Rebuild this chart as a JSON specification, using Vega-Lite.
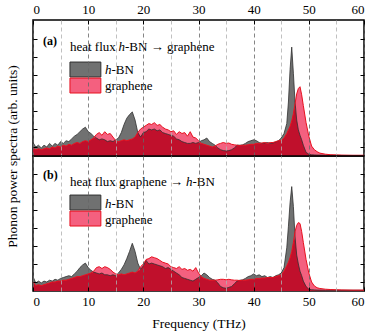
{
"$schema": "https://vega.github.io/schema/vega-lite/v6.json",
"padding": {"left": 4, "top": 2, "right": 2, "bottom": 2},
"spacing": 0,
"bounds": "flush",
"config": {
  "font": "'Liberation Serif', 'DejaVu Serif', serif",
  "view": {"stroke": "#000", "strokeWidth": 1.5},
  "text": {"font": "'Liberation Serif', 'DejaVu Serif', serif"},
  "axis": {"labelFont": "'Liberation Serif', 'DejaVu Serif', serif", "titleFont": "'Liberation Serif', 'DejaVu Serif', serif", "labelColor": "#000", "titleColor": "#000", "labelFontSize": 13, "titleFontSize": 13.5, "titleFontWeight": "normal", "tickColor": "#000"}
},
"data": {"values": [
{"panel":"a","f":0,"hbn":0.75,"gr":0.45},{"panel":"a","f":0.5,"hbn":0.5,"gr":0.35},{"panel":"a","f":1,"hbn":0.6,"gr":0.4},{"panel":"a","f":1.5,"hbn":0.45,"gr":0.35},{"panel":"a","f":2,"hbn":0.6,"gr":0.4},{"panel":"a","f":2.5,"hbn":0.5,"gr":0.45},{"panel":"a","f":3,"hbn":0.7,"gr":0.4},{"panel":"a","f":3.5,"hbn":0.55,"gr":0.5},{"panel":"a","f":4,"hbn":0.7,"gr":0.45},{"panel":"a","f":4.5,"hbn":0.6,"gr":0.55},{"panel":"a","f":5,"hbn":0.8,"gr":0.5},{"panel":"a","f":5.5,"hbn":0.7,"gr":0.6},{"panel":"a","f":6,"hbn":0.85,"gr":0.55},{"panel":"a","f":6.5,"hbn":0.8,"gr":0.65},{"panel":"a","f":7,"hbn":0.95,"gr":0.6},{"panel":"a","f":7.5,"hbn":1.1,"gr":0.7},{"panel":"a","f":8,"hbn":1.2,"gr":0.75},{"panel":"a","f":8.5,"hbn":1.35,"gr":0.7},{"panel":"a","f":9,"hbn":1.5,"gr":0.8},{"panel":"a","f":9.5,"hbn":1.6,"gr":0.85},{"panel":"a","f":10,"hbn":1.35,"gr":0.8},{"panel":"a","f":10.5,"hbn":1.25,"gr":0.9},{"panel":"a","f":11,"hbn":1.1,"gr":1.0},{"panel":"a","f":11.5,"hbn":1.0,"gr":1.2},{"panel":"a","f":12,"hbn":0.9,"gr":1.3},{"panel":"a","f":12.5,"hbn":0.95,"gr":1.15},{"panel":"a","f":13,"hbn":0.9,"gr":1.35},{"panel":"a","f":13.5,"hbn":0.8,"gr":1.2},{"panel":"a","f":14,"hbn":0.85,"gr":1.25},{"panel":"a","f":14.5,"hbn":0.8,"gr":1.05},{"panel":"a","f":15,"hbn":0.9,"gr":0.85},{"panel":"a","f":15.5,"hbn":1.0,"gr":0.8},{"panel":"a","f":16,"hbn":1.3,"gr":0.85},{"panel":"a","f":16.5,"hbn":1.75,"gr":0.9},{"panel":"a","f":17,"hbn":2.1,"gr":0.85},{"panel":"a","f":17.5,"hbn":2.3,"gr":0.9},{"panel":"a","f":18,"hbn":2.45,"gr":0.95},{"panel":"a","f":18.5,"hbn":2.0,"gr":1.05},{"panel":"a","f":19,"hbn":1.3,"gr":1.3},{"panel":"a","f":19.5,"hbn":1.05,"gr":1.5},{"panel":"a","f":20,"hbn":1.3,"gr":1.6},{"panel":"a","f":20.5,"hbn":1.35,"gr":1.7},{"panel":"a","f":21,"hbn":1.5,"gr":1.8},{"panel":"a","f":21.5,"hbn":1.45,"gr":1.75},{"panel":"a","f":22,"hbn":1.5,"gr":1.85},{"panel":"a","f":22.5,"hbn":1.4,"gr":1.7},{"panel":"a","f":23,"hbn":1.45,"gr":1.75},{"panel":"a","f":23.5,"hbn":1.3,"gr":1.6},{"panel":"a","f":24,"hbn":1.25,"gr":1.5},{"panel":"a","f":24.5,"hbn":1.2,"gr":1.45},{"panel":"a","f":25,"hbn":1.15,"gr":1.35},{"panel":"a","f":25.5,"hbn":1.1,"gr":1.4},{"panel":"a","f":26,"hbn":0.95,"gr":1.2},{"panel":"a","f":26.5,"hbn":0.9,"gr":1.35},{"panel":"a","f":27,"hbn":0.8,"gr":1.25},{"panel":"a","f":27.5,"hbn":0.75,"gr":1.3},{"panel":"a","f":28,"hbn":0.7,"gr":1.1},{"panel":"a","f":28.5,"hbn":0.7,"gr":1.35},{"panel":"a","f":29,"hbn":0.75,"gr":1.05},{"panel":"a","f":29.5,"hbn":0.7,"gr":1.0},{"panel":"a","f":30,"hbn":0.75,"gr":0.85},{"panel":"a","f":30.5,"hbn":0.85,"gr":0.7},{"panel":"a","f":31,"hbn":0.9,"gr":0.65},{"panel":"a","f":31.5,"hbn":1.0,"gr":0.6},{"panel":"a","f":32,"hbn":0.8,"gr":0.55},{"panel":"a","f":32.5,"hbn":0.7,"gr":0.5},{"panel":"a","f":33,"hbn":0.6,"gr":0.55},{"panel":"a","f":33.5,"hbn":0.45,"gr":0.65},{"panel":"a","f":34,"hbn":0.35,"gr":0.7},{"panel":"a","f":34.5,"hbn":0.3,"gr":0.75},{"panel":"a","f":35,"hbn":0.28,"gr":0.7},{"panel":"a","f":35.5,"hbn":0.3,"gr":0.72},{"panel":"a","f":36,"hbn":0.35,"gr":0.65},{"panel":"a","f":36.5,"hbn":0.45,"gr":0.62},{"panel":"a","f":37,"hbn":0.6,"gr":0.6},{"panel":"a","f":37.5,"hbn":0.6,"gr":0.58},{"panel":"a","f":38,"hbn":0.62,"gr":0.6},{"panel":"a","f":38.5,"hbn":0.7,"gr":0.6},{"panel":"a","f":39,"hbn":0.8,"gr":0.62},{"panel":"a","f":39.5,"hbn":0.85,"gr":0.65},{"panel":"a","f":40,"hbn":0.9,"gr":0.65},{"panel":"a","f":40.5,"hbn":0.85,"gr":0.7},{"panel":"a","f":41,"hbn":0.75,"gr":0.7},{"panel":"a","f":41.5,"hbn":0.7,"gr":0.72},{"panel":"a","f":42,"hbn":0.72,"gr":0.75},{"panel":"a","f":42.5,"hbn":0.75,"gr":0.7},{"panel":"a","f":43,"hbn":0.7,"gr":0.75},{"panel":"a","f":43.5,"hbn":0.72,"gr":0.75},{"panel":"a","f":44,"hbn":0.78,"gr":0.8},{"panel":"a","f":44.5,"hbn":0.85,"gr":0.85},{"panel":"a","f":45,"hbn":1.0,"gr":0.85},{"panel":"a","f":45.5,"hbn":1.25,"gr":1.0},{"panel":"a","f":46,"hbn":1.8,"gr":1.25},{"panel":"a","f":46.3,"hbn":3.0,"gr":1.45},{"panel":"a","f":46.6,"hbn":4.8,"gr":1.65},{"panel":"a","f":46.9,"hbn":6.05,"gr":1.95},{"panel":"a","f":47.2,"hbn":4.6,"gr":2.35},{"panel":"a","f":47.5,"hbn":3.0,"gr":2.9},{"panel":"a","f":47.8,"hbn":2.0,"gr":3.45},{"panel":"a","f":48.1,"hbn":1.45,"gr":3.75},{"panel":"a","f":48.4,"hbn":1.15,"gr":3.85},{"panel":"a","f":48.7,"hbn":0.9,"gr":3.4},{"panel":"a","f":49,"hbn":0.6,"gr":2.8},{"panel":"a","f":49.5,"hbn":0.2,"gr":1.85},{"panel":"a","f":50,"hbn":0.1,"gr":1.1},{"panel":"a","f":50.5,"hbn":0.07,"gr":0.55},{"panel":"a","f":51,"hbn":0.06,"gr":0.35},{"panel":"a","f":51.5,"hbn":0.05,"gr":0.24},{"panel":"a","f":52,"hbn":0.05,"gr":0.16},{"panel":"a","f":53,"hbn":0.04,"gr":0.1},{"panel":"a","f":54,"hbn":0.04,"gr":0.07},{"panel":"a","f":55,"hbn":0.04,"gr":0.06},{"panel":"a","f":56,"hbn":0.03,"gr":0.05},{"panel":"a","f":58,"hbn":0.03,"gr":0.04},{"panel":"a","f":60,"hbn":0.03,"gr":0.04},
{"panel":"b","f":0,"hbn":0.8,"gr":0.5},{"panel":"b","f":0.5,"hbn":0.45,"gr":0.3},{"panel":"b","f":1,"hbn":0.55,"gr":0.35},{"panel":"b","f":1.5,"hbn":0.45,"gr":0.3},{"panel":"b","f":2,"hbn":0.55,"gr":0.35},{"panel":"b","f":2.5,"hbn":0.5,"gr":0.4},{"panel":"b","f":3,"hbn":0.6,"gr":0.45},{"panel":"b","f":3.5,"hbn":0.55,"gr":0.5},{"panel":"b","f":4,"hbn":0.65,"gr":0.5},{"panel":"b","f":4.5,"hbn":0.6,"gr":0.55},{"panel":"b","f":5,"hbn":0.7,"gr":0.55},{"panel":"b","f":5.5,"hbn":0.75,"gr":0.6},{"panel":"b","f":6,"hbn":0.8,"gr":0.6},{"panel":"b","f":6.5,"hbn":0.85,"gr":0.65},{"panel":"b","f":7,"hbn":0.8,"gr":0.7},{"panel":"b","f":7.5,"hbn":0.95,"gr":0.75},{"panel":"b","f":8,"hbn":1.1,"gr":0.8},{"panel":"b","f":8.5,"hbn":1.3,"gr":0.8},{"panel":"b","f":9,"hbn":1.45,"gr":0.85},{"panel":"b","f":9.5,"hbn":1.55,"gr":0.9},{"panel":"b","f":10,"hbn":1.3,"gr":0.95},{"panel":"b","f":10.5,"hbn":1.15,"gr":1.0},{"panel":"b","f":11,"hbn":1.05,"gr":1.1},{"panel":"b","f":11.5,"hbn":1.0,"gr":1.3},{"panel":"b","f":12,"hbn":0.95,"gr":1.35},{"panel":"b","f":12.5,"hbn":1.0,"gr":1.25},{"panel":"b","f":13,"hbn":0.9,"gr":1.35},{"panel":"b","f":13.5,"hbn":0.9,"gr":1.3},{"panel":"b","f":14,"hbn":0.85,"gr":1.2},{"panel":"b","f":14.5,"hbn":0.9,"gr":1.05},{"panel":"b","f":15,"hbn":0.85,"gr":0.95},{"panel":"b","f":15.5,"hbn":1.0,"gr":0.9},{"panel":"b","f":16,"hbn":1.2,"gr":0.95},{"panel":"b","f":16.5,"hbn":1.45,"gr":0.9},{"panel":"b","f":17,"hbn":1.8,"gr":0.95},{"panel":"b","f":17.5,"hbn":2.2,"gr":1.0},{"panel":"b","f":18,"hbn":2.65,"gr":1.05},{"panel":"b","f":18.5,"hbn":2.2,"gr":1.0},{"panel":"b","f":19,"hbn":1.55,"gr":1.1},{"panel":"b","f":19.5,"hbn":1.2,"gr":1.35},{"panel":"b","f":20,"hbn":1.4,"gr":1.5},{"panel":"b","f":20.5,"hbn":1.7,"gr":1.75},{"panel":"b","f":21,"hbn":1.5,"gr":1.8},{"panel":"b","f":21.5,"hbn":1.55,"gr":1.9},{"panel":"b","f":22,"hbn":1.5,"gr":1.85},{"panel":"b","f":22.5,"hbn":1.45,"gr":1.8},{"panel":"b","f":23,"hbn":1.4,"gr":1.7},{"panel":"b","f":23.5,"hbn":1.35,"gr":1.6},{"panel":"b","f":24,"hbn":1.25,"gr":1.55},{"panel":"b","f":24.5,"hbn":1.3,"gr":1.5},{"panel":"b","f":25,"hbn":1.2,"gr":1.35},{"panel":"b","f":25.5,"hbn":1.1,"gr":1.3},{"panel":"b","f":26,"hbn":1.0,"gr":1.25},{"panel":"b","f":26.5,"hbn":0.9,"gr":1.35},{"panel":"b","f":27,"hbn":0.75,"gr":1.2},{"panel":"b","f":27.5,"hbn":0.7,"gr":1.25},{"panel":"b","f":28,"hbn":0.65,"gr":1.15},{"panel":"b","f":28.5,"hbn":0.6,"gr":1.2},{"panel":"b","f":29,"hbn":0.55,"gr":1.1},{"panel":"b","f":29.5,"hbn":0.65,"gr":1.3},{"panel":"b","f":30,"hbn":0.75,"gr":1.0},{"panel":"b","f":30.5,"hbn":0.85,"gr":0.8},{"panel":"b","f":31,"hbn":1.0,"gr":0.7},{"panel":"b","f":31.5,"hbn":0.9,"gr":0.65},{"panel":"b","f":32,"hbn":0.75,"gr":0.6},{"panel":"b","f":32.5,"hbn":0.65,"gr":0.6},{"panel":"b","f":33,"hbn":0.6,"gr":0.6},{"panel":"b","f":33.5,"hbn":0.45,"gr":0.62},{"panel":"b","f":34,"hbn":0.25,"gr":0.65},{"panel":"b","f":34.5,"hbn":0.18,"gr":0.65},{"panel":"b","f":35,"hbn":0.15,"gr":0.62},{"panel":"b","f":35.5,"hbn":0.2,"gr":0.65},{"panel":"b","f":36,"hbn":0.25,"gr":0.62},{"panel":"b","f":36.5,"hbn":0.4,"gr":0.6},{"panel":"b","f":37,"hbn":0.55,"gr":0.6},{"panel":"b","f":37.5,"hbn":0.6,"gr":0.58},{"panel":"b","f":38,"hbn":0.62,"gr":0.6},{"panel":"b","f":38.5,"hbn":0.7,"gr":0.6},{"panel":"b","f":39,"hbn":0.8,"gr":0.62},{"panel":"b","f":39.5,"hbn":0.85,"gr":0.65},{"panel":"b","f":40,"hbn":0.95,"gr":0.65},{"panel":"b","f":40.5,"hbn":0.85,"gr":0.7},{"panel":"b","f":41,"hbn":0.9,"gr":0.7},{"panel":"b","f":41.5,"hbn":0.8,"gr":0.72},{"panel":"b","f":42,"hbn":0.85,"gr":0.72},{"panel":"b","f":42.5,"hbn":0.75,"gr":0.75},{"panel":"b","f":43,"hbn":0.8,"gr":0.75},{"panel":"b","f":43.5,"hbn":0.75,"gr":0.75},{"panel":"b","f":44,"hbn":0.85,"gr":0.8},{"panel":"b","f":44.5,"hbn":0.9,"gr":0.85},{"panel":"b","f":45,"hbn":1.0,"gr":0.9},{"panel":"b","f":45.5,"hbn":1.3,"gr":1.1},{"panel":"b","f":46,"hbn":2.4,"gr":1.4},{"panel":"b","f":46.3,"hbn":3.6,"gr":1.6},{"panel":"b","f":46.6,"hbn":4.9,"gr":1.85},{"panel":"b","f":46.9,"hbn":5.8,"gr":2.2},{"panel":"b","f":47.2,"hbn":4.7,"gr":2.7},{"panel":"b","f":47.5,"hbn":3.0,"gr":3.3},{"panel":"b","f":47.8,"hbn":2.0,"gr":3.65},{"panel":"b","f":48.1,"hbn":1.5,"gr":3.8},{"panel":"b","f":48.4,"hbn":1.1,"gr":3.75},{"panel":"b","f":48.7,"hbn":0.85,"gr":3.3},{"panel":"b","f":49,"hbn":0.55,"gr":2.7},{"panel":"b","f":49.5,"hbn":0.25,"gr":1.75},{"panel":"b","f":50,"hbn":0.1,"gr":1.0},{"panel":"b","f":50.5,"hbn":0.07,"gr":0.5},{"panel":"b","f":51,"hbn":0.06,"gr":0.28},{"panel":"b","f":51.5,"hbn":0.05,"gr":0.18},{"panel":"b","f":52,"hbn":0.05,"gr":0.14},{"panel":"b","f":53,"hbn":0.04,"gr":0.1},{"panel":"b","f":54,"hbn":0.04,"gr":0.08},{"panel":"b","f":55,"hbn":0.04,"gr":0.07},{"panel":"b","f":56,"hbn":0.04,"gr":0.06},{"panel":"b","f":58,"hbn":0.04,"gr":0.05},{"panel":"b","f":60,"hbn":0.04,"gr":0.05}
]},
"vconcat": [
{
  "width": 331, "height": 136,
  "transform": [{"filter": "datum.panel == 'a'"}],
  "resolve": {"axis": {"x": "independent", "y": "independent"}},
  "layer": [
    {"mark": {"type": "area", "color": "#707171"},
     "encoding": {
       "x": {"field": "f", "type": "quantitative", "scale": {"domain": [0, 60], "nice": false},
             "axis": {"orient": "top", "values": [0,10,20,30,40,50,60], "grid": true, "gridColor": "#666", "gridDash": [4,3], "gridWidth": 0.8, "ticks": true, "tickSize": -4, "labelPadding": 8, "domain": false, "title": null, "zindex": 1}},
       "y": {"field": "hbn", "type": "quantitative", "scale": {"domain": [0, 7.556], "nice": false},
             "axis": {"orient": "left", "values": [0.5,1.5,2.5,3.5,4.5,5.5,6.5], "grid": false, "labels": false, "tickSize": -4, "domain": false, "title": "Phonon power spectra (arb. units)", "titleX": -21, "titleY": 136, "titleBaseline": "middle", "titleAngle": -90, "zindex": 1}}
     }},
    {"mark": {"type": "area", "color": "#f4607f"},
     "encoding": {
       "x": {"field": "f", "type": "quantitative", "scale": {"domain": [0, 60], "nice": false},
             "axis": {"orient": "bottom", "values": [5,15,25,35,45,55], "grid": true, "gridColor": "#b0b0b0", "gridDash": [4,3], "gridWidth": 0.8, "labels": false, "ticks": false, "domain": false, "title": null, "zindex": 1}},
       "y": {"field": "gr", "type": "quantitative", "scale": {"domain": [0, 7.556], "nice": false},
             "axis": {"orient": "right", "values": [0.5,1.5,2.5,3.5,4.5,5.5,6.5], "grid": false, "labels": false, "tickSize": -4, "domain": false, "title": null, "zindex": 1}}
     }},
    {"transform": [{"fold": ["hbn", "gr"], "as": ["s", "p"]}, {"aggregate": [{"op": "min", "field": "p", "as": "m"}], "groupby": ["f"]}],
     "mark": {"type": "area", "color": "#c0102c"},
     "encoding": {
       "x": {"field": "f", "type": "quantitative", "scale": {"domain": [0, 60], "nice": false}, "axis": null},
       "y": {"field": "m", "type": "quantitative", "scale": {"domain": [0, 7.556], "nice": false}, "axis": null}
     }},
    {"mark": {"type": "line", "color": "#303030", "strokeWidth": 0.8},
     "encoding": {
       "x": {"field": "f", "type": "quantitative", "scale": {"domain": [0, 60], "nice": false}, "axis": null},
       "y": {"field": "hbn", "type": "quantitative", "scale": {"domain": [0, 7.556], "nice": false}, "axis": null}
     }},
    {"mark": {"type": "line", "color": "#e8101e", "strokeWidth": 1},
     "encoding": {
       "x": {"field": "f", "type": "quantitative", "scale": {"domain": [0, 60], "nice": false}, "axis": null},
       "y": {"field": "gr", "type": "quantitative", "scale": {"domain": [0, 7.556], "nice": false}, "axis": null}
     }},
    {"data": {"values": [{}]},
     "mark": {"type": "rect", "color": "#707171", "stroke": "#303030", "strokeWidth": 1},
     "encoding": {
       "x": {"datum": 6.7, "type": "quantitative", "scale": {"domain": [0, 60], "nice": false}, "axis": null}, "x2": {"datum": 12.3},
       "y": {"datum": 4.39, "type": "quantitative", "scale": {"domain": [0, 7.556], "nice": false}, "axis": null}, "y2": {"datum": 5.22}
     }},
    {"data": {"values": [{}]},
     "mark": {"type": "rect", "color": "#f4607f", "stroke": "#e8101e", "strokeWidth": 1},
     "encoding": {
       "x": {"datum": 6.7, "type": "quantitative", "scale": {"domain": [0, 60], "nice": false}, "axis": null}, "x2": {"datum": 12.3},
       "y": {"datum": 3.5, "type": "quantitative", "scale": {"domain": [0, 7.556], "nice": false}, "axis": null}, "y2": {"datum": 4.33}
     }},
    {"data": {"values": [{}]},
     "mark": {"type": "text", "text": "(a)", "fontSize": 12, "fontWeight": "bold", "align": "left", "baseline": "alphabetic", "color": "#000"},
     "encoding": {
       "x": {"datum": 1.81, "type": "quantitative", "scale": {"domain": [0, 60], "nice": false}, "axis": null},
       "y": {"datum": 6.17, "type": "quantitative", "scale": {"domain": [0, 7.556], "nice": false}, "axis": null}
     }},
    {"data": {"values": [{}]},
     "mark": {"type": "text", "text": "heat flux", "fontSize": 13, "align": "left", "baseline": "alphabetic", "color": "#000"},
     "encoding": {
       "x": {"datum": 6.7, "type": "quantitative", "scale": {"domain": [0, 60], "nice": false}, "axis": null},
       "y": {"datum": 5.83, "type": "quantitative", "scale": {"domain": [0, 7.556], "nice": false}, "axis": null}
     }},
    {"data": {"values": [{}]},
     "mark": {"type": "text", "text": "h", "fontSize": 13, "fontStyle": "italic", "align": "left", "baseline": "alphabetic", "color": "#000"},
     "encoding": {
       "x": {"datum": 15.5, "type": "quantitative", "scale": {"domain": [0, 60], "nice": false}, "axis": null},
       "y": {"datum": 5.83, "type": "quantitative", "scale": {"domain": [0, 7.556], "nice": false}, "axis": null}
     }},
    {"data": {"values": [{}]},
     "mark": {"type": "text", "text": "-BN → graphene", "fontSize": 13, "align": "left", "baseline": "alphabetic", "color": "#000"},
     "encoding": {
       "x": {"datum": 16.68, "type": "quantitative", "scale": {"domain": [0, 60], "nice": false}, "axis": null},
       "y": {"datum": 5.83, "type": "quantitative", "scale": {"domain": [0, 7.556], "nice": false}, "axis": null}
     }},
    {"data": {"values": [{}]},
     "mark": {"type": "text", "text": "h", "fontSize": 13, "fontStyle": "italic", "align": "left", "baseline": "alphabetic", "color": "#000"},
     "encoding": {
       "x": {"datum": 13.05, "type": "quantitative", "scale": {"domain": [0, 60], "nice": false}, "axis": null},
       "y": {"datum": 4.56, "type": "quantitative", "scale": {"domain": [0, 7.556], "nice": false}, "axis": null}
     }},
    {"data": {"values": [{}]},
     "mark": {"type": "text", "text": "-BN", "fontSize": 13, "align": "left", "baseline": "alphabetic", "color": "#000"},
     "encoding": {
       "x": {"datum": 14.23, "type": "quantitative", "scale": {"domain": [0, 60], "nice": false}, "axis": null},
       "y": {"datum": 4.56, "type": "quantitative", "scale": {"domain": [0, 7.556], "nice": false}, "axis": null}
     }},
    {"data": {"values": [{}]},
     "mark": {"type": "text", "text": "graphene", "fontSize": 13, "align": "left", "baseline": "alphabetic", "color": "#000"},
     "encoding": {
       "x": {"datum": 13.05, "type": "quantitative", "scale": {"domain": [0, 60], "nice": false}, "axis": null},
       "y": {"datum": 3.67, "type": "quantitative", "scale": {"domain": [0, 7.556], "nice": false}, "axis": null}
     }}
  ]
},
{
  "width": 331, "height": 135,
  "transform": [{"filter": "datum.panel == 'b'"}],
  "resolve": {"axis": {"x": "independent", "y": "independent"}},
  "layer": [
    {"mark": {"type": "area", "color": "#707171"},
     "encoding": {
       "x": {"field": "f", "type": "quantitative", "scale": {"domain": [0, 60], "nice": false},
             "axis": {"orient": "bottom", "values": [0,10,20,30,40,50,60], "grid": true, "gridColor": "#666", "gridDash": [4,3], "gridWidth": 0.8, "ticks": true, "tickSize": -4, "labelPadding": 8, "domain": false, "title": "Frequency (THz)", "titlePadding": 8, "zindex": 1}},
       "y": {"field": "hbn", "type": "quantitative", "scale": {"domain": [0, 7.5], "nice": false},
             "axis": {"orient": "left", "values": [0.5,1.5,2.5,3.5,4.5,5.5,6.5], "grid": false, "labels": false, "tickSize": -4, "domain": false, "title": null, "zindex": 1}}
     }},
    {"mark": {"type": "area", "color": "#f4607f"},
     "encoding": {
       "x": {"field": "f", "type": "quantitative", "scale": {"domain": [0, 60], "nice": false},
             "axis": {"orient": "top", "values": [5,15,25,35,45,55], "grid": true, "gridColor": "#b0b0b0", "gridDash": [4,3], "gridWidth": 0.8, "labels": false, "ticks": false, "domain": false, "title": null, "zindex": 1}},
       "y": {"field": "gr", "type": "quantitative", "scale": {"domain": [0, 7.5], "nice": false},
             "axis": {"orient": "right", "values": [0.5,1.5,2.5,3.5,4.5,5.5,6.5], "grid": false, "labels": false, "tickSize": -4, "domain": false, "title": null, "zindex": 1}}
     }},
    {"transform": [{"fold": ["hbn", "gr"], "as": ["s", "p"]}, {"aggregate": [{"op": "min", "field": "p", "as": "m"}], "groupby": ["f"]}],
     "mark": {"type": "area", "color": "#c0102c"},
     "encoding": {
       "x": {"field": "f", "type": "quantitative", "scale": {"domain": [0, 60], "nice": false}, "axis": null},
       "y": {"field": "m", "type": "quantitative", "scale": {"domain": [0, 7.5], "nice": false}, "axis": null}
     }},
    {"mark": {"type": "line", "color": "#303030", "strokeWidth": 0.8},
     "encoding": {
       "x": {"field": "f", "type": "quantitative", "scale": {"domain": [0, 60], "nice": false}, "axis": null},
       "y": {"field": "hbn", "type": "quantitative", "scale": {"domain": [0, 7.5], "nice": false}, "axis": null}
     }},
    {"mark": {"type": "line", "color": "#e8101e", "strokeWidth": 1},
     "encoding": {
       "x": {"field": "f", "type": "quantitative", "scale": {"domain": [0, 60], "nice": false}, "axis": null},
       "y": {"field": "gr", "type": "quantitative", "scale": {"domain": [0, 7.5], "nice": false}, "axis": null}
     }},
    {"data": {"values": [{}]},
     "mark": {"type": "rect", "color": "#707171", "stroke": "#303030", "strokeWidth": 1},
     "encoding": {
       "x": {"datum": 6.7, "type": "quantitative", "scale": {"domain": [0, 60], "nice": false}, "axis": null}, "x2": {"datum": 12.3},
       "y": {"datum": 4.5, "type": "quantitative", "scale": {"domain": [0, 7.5], "nice": false}, "axis": null}, "y2": {"datum": 5.33}
     }},
    {"data": {"values": [{}]},
     "mark": {"type": "rect", "color": "#f4607f", "stroke": "#e8101e", "strokeWidth": 1},
     "encoding": {
       "x": {"datum": 6.7, "type": "quantitative", "scale": {"domain": [0, 60], "nice": false}, "axis": null}, "x2": {"datum": 12.3},
       "y": {"datum": 3.61, "type": "quantitative", "scale": {"domain": [0, 7.5], "nice": false}, "axis": null}, "y2": {"datum": 4.44}
     }},
    {"data": {"values": [{}]},
     "mark": {"type": "text", "text": "(b)", "fontSize": 12, "fontWeight": "bold", "align": "left", "baseline": "alphabetic", "color": "#000"},
     "encoding": {
       "x": {"datum": 1.81, "type": "quantitative", "scale": {"domain": [0, 60], "nice": false}, "axis": null},
       "y": {"datum": 6.22, "type": "quantitative", "scale": {"domain": [0, 7.5], "nice": false}, "axis": null}
     }},
    {"data": {"values": [{}]},
     "mark": {"type": "text", "text": "heat flux graphene →", "fontSize": 13, "align": "left", "baseline": "alphabetic", "color": "#000"},
     "encoding": {
       "x": {"datum": 6.7, "type": "quantitative", "scale": {"domain": [0, 60], "nice": false}, "axis": null},
       "y": {"datum": 5.83, "type": "quantitative", "scale": {"domain": [0, 7.5], "nice": false}, "axis": null}
     }},
    {"data": {"values": [{}]},
     "mark": {"type": "text", "text": "h", "fontSize": 13, "fontStyle": "italic", "align": "left", "baseline": "alphabetic", "color": "#000"},
     "encoding": {
       "x": {"datum": 27.73, "type": "quantitative", "scale": {"domain": [0, 60], "nice": false}, "axis": null},
       "y": {"datum": 5.83, "type": "quantitative", "scale": {"domain": [0, 7.5], "nice": false}, "axis": null}
     }},
    {"data": {"values": [{}]},
     "mark": {"type": "text", "text": "-BN", "fontSize": 13, "align": "left", "baseline": "alphabetic", "color": "#000"},
     "encoding": {
       "x": {"datum": 28.9, "type": "quantitative", "scale": {"domain": [0, 60], "nice": false}, "axis": null},
       "y": {"datum": 5.83, "type": "quantitative", "scale": {"domain": [0, 7.5], "nice": false}, "axis": null}
     }},
    {"data": {"values": [{}]},
     "mark": {"type": "text", "text": "h", "fontSize": 13, "fontStyle": "italic", "align": "left", "baseline": "alphabetic", "color": "#000"},
     "encoding": {
       "x": {"datum": 13.05, "type": "quantitative", "scale": {"domain": [0, 60], "nice": false}, "axis": null},
       "y": {"datum": 4.61, "type": "quantitative", "scale": {"domain": [0, 7.5], "nice": false}, "axis": null}
     }},
    {"data": {"values": [{}]},
     "mark": {"type": "text", "text": "-BN", "fontSize": 13, "align": "left", "baseline": "alphabetic", "color": "#000"},
     "encoding": {
       "x": {"datum": 14.23, "type": "quantitative", "scale": {"domain": [0, 60], "nice": false}, "axis": null},
       "y": {"datum": 4.61, "type": "quantitative", "scale": {"domain": [0, 7.5], "nice": false}, "axis": null}
     }},
    {"data": {"values": [{}]},
     "mark": {"type": "text", "text": "graphene", "fontSize": 13, "align": "left", "baseline": "alphabetic", "color": "#000"},
     "encoding": {
       "x": {"datum": 13.05, "type": "quantitative", "scale": {"domain": [0, 60], "nice": false}, "axis": null},
       "y": {"datum": 3.72, "type": "quantitative", "scale": {"domain": [0, 7.5], "nice": false}, "axis": null}
     }}
  ]
}
]
}
